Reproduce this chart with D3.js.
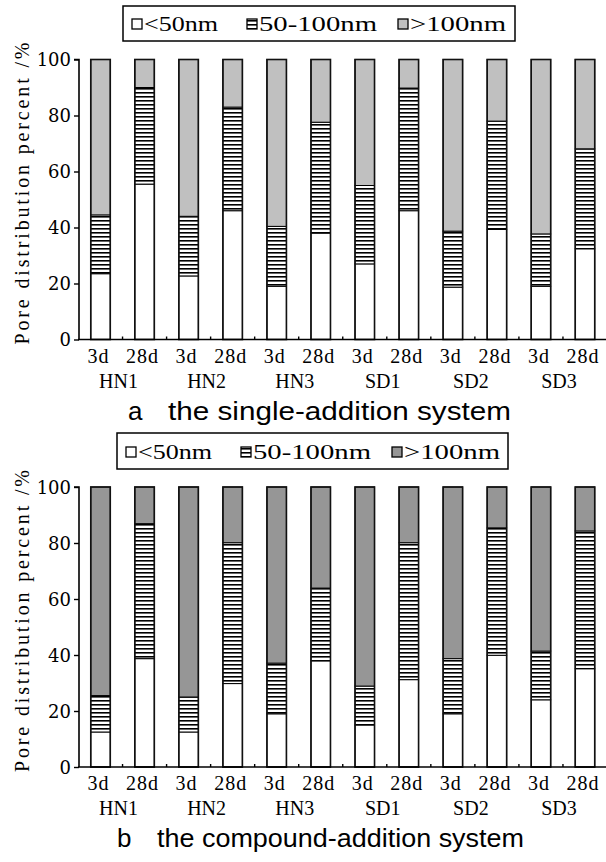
<!DOCTYPE html>
<html>
<head>
<meta charset="utf-8">
<script src="https://cdn.jsdelivr.net/npm/d3@7"></script>
<style>
  html, body { margin: 0; padding: 0; background: #fff; }
  svg { display: block; }
</style>
</head>
<body>
<svg id="fig" width="606" height="862"></svg>
<script>
// Curing ages and mixes
const ages = ["3d", "28d"];
const mixes = ["HN1", "HN2", "HN3", "SD1", "SD2", "SD3"];
const yTicks = [0, 20, 40, 60, 80, 100];
const seriesNames = ["<50nm", "50-100nm", ">100nm"];

// a: single-addition system (percent of pores per size class)
const singleFine   = [23.5, 55.5, 22.7, 46.0, 19.0, 38.0, 27.0, 46.0, 18.7, 39.3, 19.0, 32.4];
const singleMid    = [21.0, 34.5, 21.3, 37.0, 21.4, 39.6, 28.0, 43.8, 20.0, 38.7, 18.7, 35.7];
const singleCoarse = [55.5, 10.0, 56.0, 17.0, 59.6, 22.4, 45.0, 10.2, 61.3, 22.0, 62.3, 31.9];

// b: compound-addition system
const compFine   = [12.5, 38.7, 12.5, 29.8, 19.0, 37.9, 15.0, 31.2, 19.0, 39.9, 24.0, 35.1];
const compMid    = [13.0, 48.2, 12.5, 50.3, 18.1, 26.0, 13.9, 48.9, 19.7, 45.5, 17.4, 49.2];
const compCoarse = [74.5, 13.1, 75.0, 19.9, 62.9, 36.1, 71.1, 19.9, 61.3, 14.6, 58.6, 15.7];

const svg = d3.select("#fig");
const serif = "'DejaVu Serif', 'Liberation Serif', serif";
const serif2 = "'Liberation Serif', 'DejaVu Serif', serif";

// horizontal-line hatch used for the 50-100nm class
const defs = svg.append("defs");
const pat = defs.append("pattern")
  .attr("id", "hatch").attr("patternUnits", "userSpaceOnUse")
  .attr("width", 8).attr("height", 4);
pat.append("rect").attr("width", 8).attr("height", 4).attr("fill", "#fff");
pat.append("rect").attr("y", 0).attr("width", 8).attr("height", 1.6).attr("fill", "#000");

const cats = [];
mixes.forEach(m => ages.forEach(a => cats.push(m + "|" + a)));

const x = d3.scaleBand().domain(cats).range([78.5, 607]);
const barW = 19.5;

function panel(opt) {
  const { fine, mid, coarse, yTop, yBot, coarseFill, legendBox, legendTextY, caption, captionY, captionX } = opt;
  const y = d3.scaleLinear().domain([0, 100]).range([yBot, yTop]);
  const g = svg.append("g");

  const rows = cats.map((c, i) => ({ cat: c, fine: fine[i], mid: mid[i], coarse: coarse[i] }));
  const stack = d3.stack().keys(["fine", "mid", "coarse"])(rows);
  const fills = { fine: "#fff", mid: "url(#hatch)", coarse: coarseFill };

  // stacked segments
  stack.forEach(layer => {
    g.append("g").selectAll("rect").data(layer).join("rect")
      .attr("x", d => x(d.data.cat) + x.bandwidth() / 2 - barW / 2)
      .attr("width", barW)
      .attr("y", d => y(d[1]))
      .attr("height", d => y(d[0]) - y(d[1]))
      .attr("fill", fills[layer.key])
      .attr("stroke", "#000").attr("stroke-width", 1);
  });
  // bar outlines
  g.append("g").selectAll("rect").data(rows).join("rect")
    .attr("x", d => x(d.cat) + x.bandwidth() / 2 - barW / 2)
    .attr("width", barW)
    .attr("y", y(100)).attr("height", y(0) - y(100))
    .attr("fill", "none").attr("stroke", "#111").attr("stroke-width", 1.6);

  // y axis
  const yAxis = g.append("g").attr("transform", "translate(79,0)")
    .call(d3.axisLeft(y).tickValues(yTicks).tickSize(5).tickPadding(3).tickFormat(d3.format("d")))
    .attr("font-family", serif).attr("font-size", 18);
  yAxis.select(".domain").attr("stroke", "#000").attr("stroke-width", 1.6).attr("d", `M-5,${y(100)}H0V${y(0)}`);
  yAxis.selectAll(".tick line").attr("stroke", "#000").attr("stroke-width", 1.4);
  yAxis.selectAll(".tick text").attr("font-family", serif).attr("font-size", 18)
    .attr("fill", "#000").attr("dy", "0.36em");

  // x axis with short upward ticks at category boundaries
  const xAxis = g.append("g").attr("transform", `translate(0,${yBot})`);
  xAxis.append("line").attr("x1", 78).attr("x2", 606).attr("y1", 0).attr("y2", 0)
    .attr("stroke", "#000").attr("stroke-width", 1.6);
  xAxis.selectAll("line.tk").data(cats.slice(1)).join("line").attr("class", "tk")
    .attr("x1", d => x(d)).attr("x2", d => x(d)).attr("y1", 0).attr("y2", -3)
    .attr("stroke", "#000").attr("stroke-width", 1.4);
  xAxis.selectAll("text.age").data(cats).join("text").attr("class", "age")
    .attr("x", d => x(d) + x.bandwidth() / 2 - 2)
    .attr("y", 23)
    .attr("text-anchor", "middle")
    .attr("font-family", serif2).attr("font-size", 20).attr("letter-spacing", 1)
    .text(d => d.split("|")[1]);
  xAxis.selectAll("text.mix").data(mixes).join("text").attr("class", "mix")
    .attr("x", m => x(m + "|3d") + x.bandwidth() - 4)
    .attr("y", 48)
    .attr("text-anchor", "middle")
    .attr("font-family", serif2).attr("font-size", 20)
    .text(m => m);

  // y axis title
  g.append("text")
    .attr("transform", `translate(29,${(yTop + yBot) / 2 - 6}) rotate(-90)`)
    .attr("text-anchor", "middle")
    .attr("font-family", serif2).attr("font-size", 20)
    .attr("textLength", 302).attr("lengthAdjust", "spacing")
    .text("Pore distribution percent /%");

  // legend
  const lg = g.append("g");
  lg.append("rect").attr("x", legendBox[0]).attr("y", legendBox[1])
    .attr("width", legendBox[2]).attr("height", legendBox[3])
    .attr("fill", "#fff").attr("stroke", "#000").attr("stroke-width", 1.5);
  const items = [
    { name: seriesNames[0], fill: "#fff", ix: 9, tx: 21, w: 74 },
    { name: seriesNames[1], fill: "url(#hatch)", ix: 124, tx: 136, w: 118 },
    { name: seriesNames[2], fill: coarseFill, ix: 275, tx: 287, w: 96 }
  ];
  items.forEach(it => {
    lg.append("rect").attr("x", legendBox[0] + it.ix).attr("y", legendTextY - 12)
      .attr("width", 10).attr("height", 10)
      .attr("fill", it.fill).attr("stroke", "#000").attr("stroke-width", 1.3);
    lg.append("text").attr("x", legendBox[0] + it.tx).attr("y", legendTextY)
      .attr("font-family", serif2).attr("font-size", 22)
      .attr("textLength", it.w).attr("lengthAdjust", "spacingAndGlyphs")
      .text(it.name);
  });

  // caption
  svg.append("text").attr("x", captionX[0]).attr("y", captionY)
    .attr("font-family", "'Liberation Sans', Arial, sans-serif").attr("font-size", 26)
    .text(caption[0]);
  svg.append("text").attr("x", captionX[1]).attr("y", captionY)
    .attr("font-family", "'Liberation Sans', Arial, sans-serif").attr("font-size", 26)
    .attr("textLength", captionX[2]).attr("lengthAdjust", "spacingAndGlyphs")
    .text(caption[1]);
}

panel({
  fine: singleFine, mid: singleMid, coarse: singleCoarse,
  yTop: 59.5, yBot: 339.5, coarseFill: "#c0c0c0",
  legendBox: [123, 6, 392, 35], legendTextY: 31,
  caption: ["a", "the single-addition system"], captionY: 420, captionX: [128, 168, 343]
});

panel({
  fine: compFine, mid: compMid, coarse: compCoarse,
  yTop: 487, yBot: 767, coarseFill: "#969696",
  legendBox: [117, 433, 391, 36], legendTextY: 459,
  caption: ["b", "the compound-addition system"], captionY: 847, captionX: [117, 157, 367]
});
</script>
</body>
</html>
